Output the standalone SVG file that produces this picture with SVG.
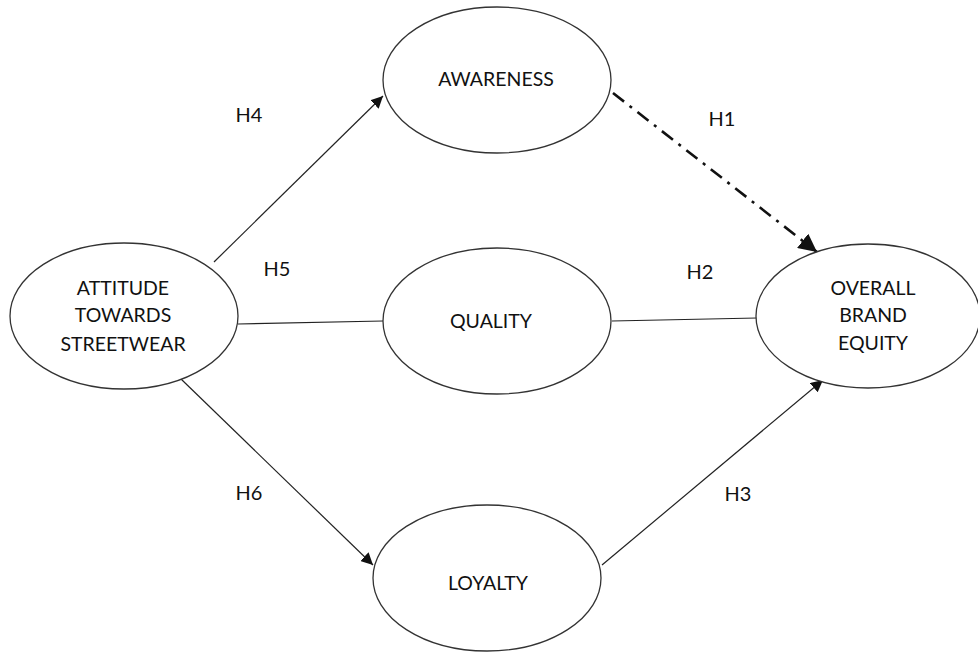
<svg xmlns="http://www.w3.org/2000/svg" width="978" height="652" viewBox="0 0 978 652">
<style>
.node{fill:#fff;stroke:#333;stroke-width:1.3}
.t{font-family:Lato,"Open Sans","Liberation Sans",sans-serif;font-size:19.5px;fill:#111;text-anchor:middle}
.lbl{font-family:Lato,"Open Sans","Liberation Sans",sans-serif;font-size:20px;fill:#111;text-anchor:middle}
.c{stroke:#222;stroke-width:1.2;fill:none}
.dd{stroke:#111;stroke-width:2.6;fill:none;stroke-dasharray:14 7 3 7}
</style>
<defs>
<marker id="ah" viewBox="0 0 10 10" refX="10" refY="5" markerWidth="12" markerHeight="12" markerUnits="userSpaceOnUse" orient="auto"><path d="M0,0L10,5L0,10z" fill="#111"/></marker>
<marker id="ah2" viewBox="0 0 10 10" refX="10" refY="5" markerWidth="7" markerHeight="7" markerUnits="strokeWidth" orient="auto"><path d="M0,0L10,5L0,10z" fill="#111"/></marker>
</defs>
<g id="connectors">
<line class="c" x1="214" y1="262" x2="383" y2="96" marker-end="url(#ah)"/>
<line class="dd" x1="613" y1="93" x2="817" y2="252" marker-end="url(#ah2)"/>
<line class="c" x1="238" y1="324" x2="383" y2="321"/>
<line class="c" x1="612" y1="321" x2="757" y2="318"/>
<line class="c" x1="181" y1="379" x2="373" y2="565" marker-end="url(#ah)"/>
<line class="c" x1="602" y1="565" x2="823" y2="380" marker-end="url(#ah)"/>
</g>
<g id="awareness"><ellipse class="node" cx="497" cy="80" rx="114" ry="73"/><text class="t" x="496" y="86">AWARENESS</text></g>
<g id="attitude"><ellipse class="node" cx="124" cy="316" rx="114" ry="73"/><text class="t" x="123" y="295">ATTITUDE</text><text class="t" x="123" y="322">TOWARDS</text><text class="t" x="123" y="351">STREETWEAR</text></g>
<g id="quality"><ellipse class="node" cx="497" cy="321" rx="114" ry="73"/><text class="t" x="491" y="328">QUALITY</text></g>
<g id="loyalty"><ellipse class="node" cx="487" cy="578" rx="114" ry="73"/><text class="t" x="488" y="590">LOYALTY</text></g>
<g id="obe"><ellipse class="node" cx="868" cy="316" rx="112" ry="72"/><text class="t" x="873" y="295">OVERALL</text><text class="t" x="873" y="322">BRAND</text><text class="t" x="873" y="350">EQUITY</text></g>
<g id="labels">
<text class="lbl" x="249" y="122">H4</text>
<text class="lbl" x="722" y="126">H1</text>
<text class="lbl" x="277" y="276">H5</text>
<text class="lbl" x="700" y="279">H2</text>
<text class="lbl" x="249" y="500">H6</text>
<text class="lbl" x="738" y="501">H3</text>
</g>
</svg>
